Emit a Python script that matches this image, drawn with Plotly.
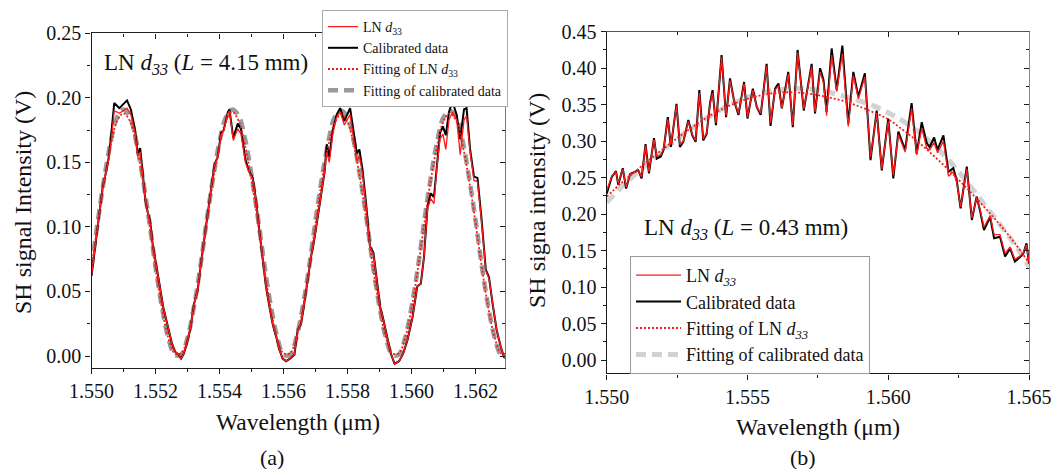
import plotly.graph_objects as go

FONT = "Liberation Serif"

# ---------------- Panel (a) data ----------------
lam_a = [1.55000, 1.55014, 1.55024, 1.55035, 1.55045, 1.55054, 1.55061, 1.55071, 1.55087, 1.55111,
         1.55123, 1.55137, 1.55144, 1.55152, 1.55160, 1.55168, 1.55176, 1.55183, 1.55191, 1.55202,
         1.55212, 1.55224, 1.55238, 1.55251, 1.55262, 1.55272, 1.55280, 1.55287, 1.55295, 1.55308,
         1.55321, 1.55332, 1.55342, 1.55353, 1.55363, 1.55374, 1.55384, 1.55394, 1.55405, 1.55413,
         1.55426, 1.55431, 1.55443, 1.55457, 1.55467, 1.55481, 1.55491, 1.55504, 1.55514, 1.55524,
         1.55535, 1.55545, 1.55556, 1.55566, 1.55577, 1.55587, 1.55597, 1.55608, 1.55620, 1.55634,
         1.55644, 1.55655, 1.55665, 1.55675, 1.55686, 1.55696, 1.55707, 1.55717, 1.55728, 1.55735,
         1.55743, 1.55754, 1.55766, 1.55777, 1.55790, 1.55808, 1.55818, 1.55829, 1.55837, 1.55847,
         1.55858, 1.55870, 1.55881, 1.55891, 1.55902, 1.55912, 1.55924, 1.55935, 1.55947, 1.55961,
         1.55974, 1.55987, 1.56003, 1.56018, 1.56029, 1.56039, 1.56050, 1.56060, 1.56070, 1.56079,
         1.56089, 1.56098, 1.56107, 1.56117, 1.56128, 1.56141, 1.56152, 1.56164, 1.56172, 1.56183,
         1.56195, 1.56206, 1.56218, 1.56232, 1.56242, 1.56253, 1.56266, 1.56279, 1.56289, 1.56302]

cal_a = [0.062, 0.090, 0.108, 0.131, 0.142, 0.154, 0.170, 0.196, 0.192, 0.198,
         0.191, 0.174, 0.157, 0.161, 0.142, 0.121, 0.111, 0.105, 0.087, 0.069,
         0.056, 0.038, 0.023, 0.010, 0.003, 0.001, -0.002, 0.001, 0.007, 0.020,
         0.041, 0.051, 0.072, 0.092, 0.113, 0.131, 0.148, 0.154, 0.173, 0.175,
         0.189, 0.191, 0.169, 0.180, 0.176, 0.152, 0.144, 0.138, 0.121, 0.098,
         0.074, 0.054, 0.038, 0.025, 0.015, 0.005, -0.002, -0.004, -0.002, 0.001,
         0.020, 0.025, 0.041, 0.059, 0.077, 0.090, 0.108, 0.126, 0.142, 0.164,
         0.154, 0.175, 0.187, 0.192, 0.182, 0.192, 0.175, 0.157, 0.160, 0.144,
         0.118, 0.085, 0.080, 0.061, 0.038, 0.028, 0.015, 0.002, -0.006, -0.004,
         0.002, 0.012, 0.030, 0.054, 0.056, 0.077, 0.116, 0.126, 0.123, 0.149,
         0.173, 0.178, 0.171, 0.189, 0.197, 0.187, 0.168, 0.191, 0.192, 0.160,
         0.139, 0.138, 0.108, 0.067, 0.061, 0.041, 0.020, 0.007, -0.001, -0.002]

ln_a = [0.062, 0.090, 0.108, 0.131, 0.142, 0.152, 0.166, 0.190, 0.188, 0.192,
        0.187, 0.172, 0.155, 0.158, 0.141, 0.121, 0.111, 0.104, 0.087, 0.069,
        0.056, 0.038, 0.023, 0.010, 0.003, 0.001, -0.002, 0.001, 0.007, 0.020,
        0.041, 0.051, 0.072, 0.092, 0.113, 0.131, 0.148, 0.153, 0.172, 0.174,
        0.188, 0.190, 0.167, 0.176, 0.172, 0.150, 0.143, 0.137, 0.121, 0.098,
        0.074, 0.054, 0.038, 0.025, 0.015, 0.005, -0.002, -0.004, -0.002, 0.001,
        0.020, 0.025, 0.041, 0.059, 0.077, 0.090, 0.108, 0.126, 0.142, 0.158,
        0.150, 0.172, 0.185, 0.189, 0.179, 0.187, 0.170, 0.151, 0.155, 0.141,
        0.116, 0.084, 0.079, 0.061, 0.038, 0.028, 0.015, 0.002, -0.006, -0.004,
        0.002, 0.012, 0.030, 0.054, 0.056, 0.077, 0.114, 0.122, 0.118, 0.146,
        0.168, 0.172, 0.160, 0.183, 0.189, 0.183, 0.156, 0.183, 0.186, 0.158,
        0.136, 0.135, 0.106, 0.066, 0.060, 0.041, 0.020, 0.007, -0.001, -0.002]

fit_lam_a = [1.5500, 1.5502, 1.5504, 1.5506, 1.5508, 1.5510, 1.5512, 1.5514, 1.5516, 1.5518,
             1.5520, 1.5522, 1.5524, 1.5526, 1.5528, 1.5530, 1.5532, 1.5534, 1.5536, 1.5538,
             1.5540, 1.5542, 1.5544, 1.5546, 1.5548, 1.5550, 1.5552, 1.5554, 1.5556, 1.5558,
             1.5560, 1.5562, 1.5564, 1.5566, 1.5568, 1.5570, 1.5572, 1.5574, 1.5576, 1.5578,
             1.5580, 1.5582, 1.5584, 1.5586, 1.5588, 1.5590, 1.5592, 1.5594, 1.5596, 1.5598,
             1.5600, 1.5602, 1.5604, 1.5606, 1.5608, 1.5610, 1.5612, 1.5614, 1.5616, 1.5618,
             1.5620, 1.5622, 1.5624, 1.5626, 1.5628, 1.5630]

fit_ln_a = [0.068, 0.103, 0.136, 0.163, 0.182, 0.188, 0.182, 0.163, 0.136, 0.103,
            0.068, 0.037, 0.014, 0.002, 0.002, 0.014, 0.037, 0.068, 0.103, 0.136,
            0.163, 0.182, 0.189, 0.182, 0.163, 0.136, 0.103, 0.068, 0.037, 0.014,
            0.002, 0.002, 0.014, 0.037, 0.068, 0.103, 0.136, 0.163, 0.181, 0.187,
            0.181, 0.163, 0.136, 0.103, 0.068, 0.037, 0.014, 0.002, 0.002, 0.014,
            0.037, 0.068, 0.103, 0.136, 0.163, 0.182, 0.188, 0.182, 0.163, 0.136,
            0.103, 0.068, 0.037, 0.014, 0.002, 0.002]

fit_cal_a = [0.069, 0.105, 0.138, 0.166, 0.185, 0.191, 0.185, 0.166, 0.138, 0.105,
             0.069, 0.038, 0.014, 0.001, 0.001, 0.014, 0.038, 0.069, 0.105, 0.138,
             0.166, 0.185, 0.191, 0.186, 0.168, 0.140, 0.107, 0.071, 0.039, 0.015,
             0.001, 0.001, 0.014, 0.038, 0.069, 0.105, 0.138, 0.166, 0.185, 0.190,
             0.185, 0.166, 0.138, 0.105, 0.069, 0.038, 0.014, 0.001, 0.001, 0.014,
             0.038, 0.069, 0.105, 0.138, 0.166, 0.185, 0.190, 0.185, 0.166, 0.138,
             0.105, 0.069, 0.038, 0.014, 0.001, 0.001]

# ---------------- Panel (b) data ----------------
lam_b = [1.55000, 1.55018, 1.55033, 1.55041, 1.55057, 1.55069, 1.55083, 1.55104, 1.55112, 1.55124,
         1.55138, 1.55150, 1.55168, 1.55178, 1.55192, 1.55202, 1.55217, 1.55228, 1.55248, 1.55260,
         1.55272, 1.55290, 1.55304, 1.55316, 1.55329, 1.55343, 1.55355, 1.55367, 1.55376, 1.55388,
         1.55408, 1.55424, 1.55438, 1.55452, 1.55468, 1.55488, 1.55500, 1.55519, 1.55533, 1.55547,
         1.55568, 1.55582, 1.55598, 1.55610, 1.55622, 1.55645, 1.55661, 1.55678, 1.55700, 1.55728,
         1.55740, 1.55758, 1.55770, 1.55781, 1.55799, 1.55817, 1.55837, 1.55858, 1.55876, 1.55894,
         1.55917, 1.55937, 1.55959, 1.55977, 1.56000, 1.56018, 1.56036, 1.56060, 1.56083, 1.56101,
         1.56119, 1.56137, 1.56147, 1.56163, 1.56175, 1.56196, 1.56214, 1.56231, 1.56243, 1.56257,
         1.56279, 1.56297, 1.56314, 1.56326, 1.56340, 1.56362, 1.56376, 1.56397, 1.56415, 1.56433,
         1.56450, 1.56470, 1.56480, 1.56491, 1.56500]

cal_b = [0.228, 0.251, 0.259, 0.240, 0.263, 0.235, 0.255, 0.258, 0.260, 0.249,
         0.296, 0.256, 0.304, 0.276, 0.279, 0.288, 0.333, 0.292, 0.351, 0.292,
         0.299, 0.329, 0.308, 0.299, 0.370, 0.301, 0.310, 0.352, 0.370, 0.322,
         0.418, 0.333, 0.386, 0.356, 0.336, 0.381, 0.331, 0.372, 0.347, 0.336,
         0.406, 0.321, 0.372, 0.379, 0.345, 0.395, 0.319, 0.425, 0.342, 0.406,
         0.338, 0.400, 0.384, 0.340, 0.427, 0.370, 0.431, 0.324, 0.395, 0.361,
         0.393, 0.274, 0.342, 0.260, 0.331, 0.249, 0.313, 0.288, 0.352, 0.283,
         0.326, 0.297, 0.292, 0.305, 0.288, 0.308, 0.258, 0.263, 0.247, 0.208,
         0.265, 0.192, 0.224, 0.205, 0.178, 0.196, 0.167, 0.169, 0.142, 0.153,
         0.135, 0.142, 0.146, 0.160, 0.132]

ln_b = [0.232, 0.252, 0.258, 0.242, 0.262, 0.237, 0.255, 0.258, 0.259, 0.251,
        0.294, 0.258, 0.302, 0.279, 0.281, 0.289, 0.330, 0.295, 0.349, 0.295,
        0.300, 0.327, 0.309, 0.301, 0.366, 0.303, 0.311, 0.350, 0.366, 0.325,
        0.415, 0.335, 0.383, 0.356, 0.338, 0.379, 0.333, 0.370, 0.347, 0.338,
        0.403, 0.325, 0.370, 0.376, 0.345, 0.392, 0.322, 0.421, 0.344, 0.402,
        0.340, 0.395, 0.380, 0.335, 0.418, 0.368, 0.420, 0.320, 0.390, 0.358,
        0.388, 0.278, 0.338, 0.262, 0.327, 0.253, 0.309, 0.285, 0.345, 0.281,
        0.318, 0.290, 0.288, 0.298, 0.284, 0.300, 0.252, 0.258, 0.244, 0.210,
        0.262, 0.195, 0.222, 0.207, 0.182, 0.198, 0.172, 0.172, 0.146, 0.155,
        0.138, 0.143, 0.147, 0.158, 0.134]

fit_lam_b = [1.5500, 1.5505, 1.5510, 1.5515, 1.5520, 1.5525, 1.5530, 1.5535, 1.5540, 1.5545,
             1.5550, 1.5555, 1.5560, 1.5565, 1.5570, 1.5575, 1.5580, 1.5585, 1.5590, 1.5595,
             1.5600, 1.5605, 1.5610, 1.5615, 1.5620, 1.5625, 1.5630, 1.5635, 1.5640, 1.5645,
             1.5650]

fit_ln_b = [0.224, 0.242, 0.258, 0.274, 0.289, 0.304, 0.318, 0.331, 0.342, 0.351,
            0.358, 0.363, 0.366, 0.367, 0.366, 0.363, 0.359, 0.354, 0.347, 0.339,
            0.330, 0.316, 0.301, 0.284, 0.266, 0.247, 0.227, 0.206, 0.184, 0.160,
            0.133]

fit_cal_b = [0.216, 0.236, 0.254, 0.271, 0.287, 0.303, 0.317, 0.330, 0.342, 0.352,
             0.360, 0.366, 0.370, 0.372, 0.372, 0.370, 0.366, 0.361, 0.355, 0.348,
             0.339, 0.328, 0.315, 0.299, 0.280, 0.258, 0.234, 0.209, 0.184, 0.158,
             0.128]

# ---------------- figure ----------------
fig = go.Figure()

RED = "#ff1a1a"
GREY_A = "#9a9a9a"
GREY_B = "#d2d2d2"

def add_panel(xa, ya, legend, lam, cal, ln, flam, fln, fcal, grey, gwidth, sub):
    fig.add_trace(go.Scatter(x=flam, y=fcal, mode="lines", xaxis=xa, yaxis=ya, legend=legend,
                             name="Fitting of calibrated data", legendrank=4, line_shape="spline",
                             line=dict(color=grey, width=gwidth, dash="10px,6px")))
    fig.add_trace(go.Scatter(x=lam, y=cal, mode="lines", xaxis=xa, yaxis=ya, legend=legend,
                             name="Calibrated data", legendrank=2,
                             line=dict(color="black", width=2)))
    fig.add_trace(go.Scatter(x=lam, y=ln, mode="lines", xaxis=xa, yaxis=ya, legend=legend,
                             name="LN <i>d</i><sub>%s</sub>" % sub, legendrank=1,
                             line=dict(color=RED, width=1.3)))
    fig.add_trace(go.Scatter(x=flam, y=fln, mode="lines", xaxis=xa, yaxis=ya, legend=legend,
                             name="Fitting of LN <i>d</i><sub>%s</sub>" % sub, legendrank=3,
                             line_shape="spline",
                             line=dict(color=RED, width=1.8, dash="2px,2px")))

add_panel("x", "y", "legend", lam_a, cal_a, ln_a, fit_lam_a, fit_ln_a, fit_cal_a, GREY_A, 4.5, "33")
add_panel("x2", "y2", "legend2", lam_b, cal_b, ln_b, fit_lam_b, fit_ln_b, fit_cal_b, GREY_B, 5, "<i>33</i>")

# dummy traces for mirrored (inside) tick axes
fig.add_trace(go.Scatter(x=[None], y=[None], xaxis="x3", yaxis="y3", showlegend=False, hoverinfo="skip"))
fig.add_trace(go.Scatter(x=[None], y=[None], xaxis="x4", yaxis="y4", showlegend=False, hoverinfo="skip"))

AX = "#1a1a1a"

def main_axis(domain, rng, tick0, dtick, mdtick, fmt, anchor):
    return dict(domain=domain, range=rng, tick0=tick0, dtick=dtick, tickformat=fmt,
                ticks="outside", ticklen=5, tickwidth=1.3, tickcolor=AX,
                showline=True, linecolor=AX, linewidth=1.4, showgrid=False, zeroline=False,
                minor=dict(ticks="outside", ticklen=3, tickwidth=1.1, tickcolor=AX,
                           tick0=tick0, dtick=mdtick, showgrid=False),
                tickfont=dict(family=FONT, size=20, color="#111"),
                anchor=anchor, fixedrange=True, automargin=False)

def mirror_axis(over, side, rng, tick0, dtick, mdtick, anchor, lc):
    return dict(overlaying=over, side=side, range=rng, tick0=tick0, dtick=dtick,
                ticks="inside", ticklen=5, tickwidth=1.3, tickcolor=AX,
                showline=True, linecolor=lc, linewidth=1.4, showgrid=False, zeroline=False,
                showticklabels=False,
                minor=dict(ticks="inside", ticklen=3, tickwidth=1.1, tickcolor=AX,
                           tick0=tick0, dtick=mdtick, showgrid=False),
                anchor=anchor, fixedrange=True, automargin=False)

W, H = 1061, 469
xa_dom = [91.5 / W, 505 / W]
ya_dom = [1 - 368 / H, 1 - 33.3 / H]
xb_dom = [606.7 / W, 1029 / W]
yb_dom = [1 - 373.3 / H, 1 - 31.7 / H]

xr_a = [1.550, 1.56292]
yr_a = [-0.0093, 0.25]
xr_b = [1.550, 1.565]
yr_b = [-0.0182, 0.45]

fig.update_layout(
    width=W, height=H, margin=dict(l=0, r=0, t=0, b=0, pad=0), autosize=False,
    paper_bgcolor="white", plot_bgcolor="white",
    font=dict(family=FONT, size=20, color="black"),
    xaxis=main_axis(xa_dom, xr_a, 1.550, 0.002, 0.001, ".3f", "y"),
    yaxis=main_axis(ya_dom, yr_a, 0, 0.05, 0.025, ".2f", "x"),
    xaxis2=main_axis(xb_dom, xr_b, 1.550, 0.005, 0.0025, ".3f", "y2"),
    yaxis2=main_axis(yb_dom, yr_b, 0, 0.05, 0.025, ".2f", "x2"),
    xaxis3=mirror_axis("x", "top", xr_a, 1.550, 0.002, 0.001, "y", "#222"),
    yaxis3=mirror_axis("y", "right", yr_a, 0, 0.05, 0.025, "x", "#777"),
    xaxis4=mirror_axis("x2", "top", xr_b, 1.550, 0.005, 0.0025, "y2", "#555"),
    yaxis4=mirror_axis("y2", "right", yr_b, 0, 0.05, 0.025, "x2", "#888"),
    legend=dict(x=322 / W, y=1 - 10 / H, xanchor="left", yanchor="top",
                bgcolor="white", bordercolor="#aaaaaa", borderwidth=1,
                font=dict(family=FONT, size=14, color="#111"),
                itemwidth=30, tracegroupgap=0, traceorder="normal"),
    legend2=dict(x=630 / W, y=1 - 256 / H, xanchor="left", yanchor="top",
                 bgcolor="white", bordercolor="#999999", borderwidth=1,
                 font=dict(family=FONT, size=18, color="#111"),
                 itemwidth=45, tracegroupgap=0, traceorder="normal"),
)

ann = [
    dict(text="SH signal Intensity (V)", x=23 / W, y=1 - 203 / H, textangle=-90, font=dict(size=24)),
    dict(text="Wavelength (\u03bcm)", x=298 / W, y=1 - 421.5 / H, font=dict(size=23.5)),
    dict(text="(a)", x=272 / W, y=1 - 457 / H, font=dict(size=22)),
    dict(text="SH signa intensity (V)", x=537 / W, y=1 - 201 / H, textangle=-90, font=dict(size=24)),
    dict(text="Wavelength (\u03bcm)", x=817.5 / W, y=1 - 426.5 / H, font=dict(size=23.5)),
    dict(text="(b)", x=803 / W, y=1 - 457 / H, font=dict(size=22)),
    dict(text="LN <i>d</i><sub><i>33</i></sub> (<i>L</i> = 4.15 mm)", x=102 / W, y=1 - 64 / H,
         xanchor="left", font=dict(size=23)),
    dict(text="LN <i>d</i><sub><i>33</i></sub> (<i>L</i> = 0.43 mm)", x=642 / W, y=1 - 229 / H,
         xanchor="left", font=dict(size=23)),
]
for a in ann:
    a.setdefault("xanchor", "center")
    a.update(xref="paper", yref="paper", yanchor="middle", showarrow=False)
    a["font"] = dict(family=FONT, color="#111", **a["font"])
fig.update_layout(annotations=ann)

fig.write_html("out.html")
